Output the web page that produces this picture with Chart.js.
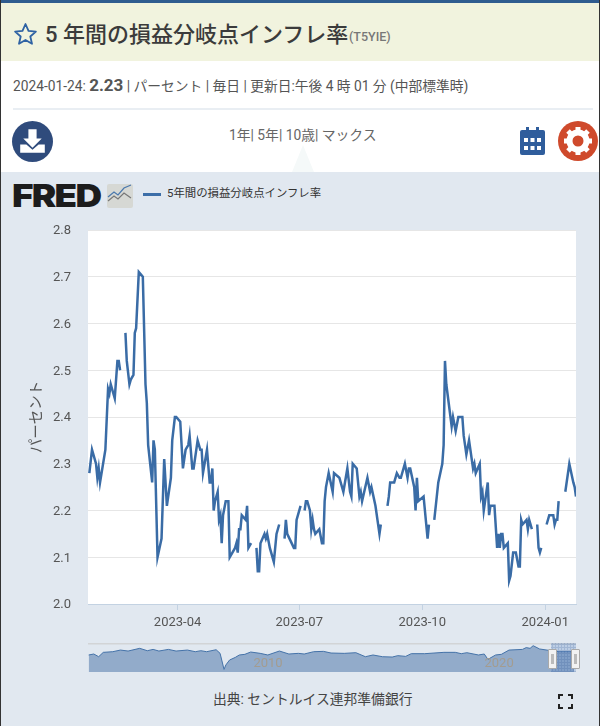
<!DOCTYPE html>
<html lang="ja"><head><meta charset="utf-8">
<script src="https://cdn.jsdelivr.net/npm/chart.js@4"></script>
<style>
html,body{margin:0;padding:0;background:#fff}
body{width:600px;height:726px;position:relative;overflow:hidden;font-family:Roboto,"Noto Sans CJK JP",sans-serif;color:#444}
.a{position:absolute;white-space:nowrap}
</style></head><body>
<div class="a" style="left:0;top:0;width:600px;height:3px;background:#2f5c8f"></div>
<div class="a" style="left:0;top:3px;width:600px;height:58px;background:#f1f3de"></div>
<svg class="a" style="left:13px;top:22px" width="25" height="24" viewBox="0 0 24 24"><path d="M12 2l3 6.9 7.4.7-5.6 4.9 1.7 7.3L12 17.9 5.500 21.800l1.700-7.300L1.600 9.600 9 8.900z" fill="none" stroke="#2f62a3" stroke-width="1.800" stroke-linejoin="round"/></svg>
<div class="a" style="left:45px;top:20px;font-size:22px;line-height:30px;font-weight:500;color:#3b3b3b">5 年間の損益分岐点インフレ率</div>
<div class="a" style="left:349px;top:29px;font-size:12.500px;line-height:16px;font-weight:500;color:#777">(T5YIE)</div>
<div class="a" style="left:13px;top:73px;font-size:13.750px;line-height:24px;color:#555">2024-01-24: <b style="font-size:17px;color:#555">2.23</b> | パーセント | 毎日 | 更新日:午後 4 時 01 分 (中部標準時)</div>
<div class="a" style="left:13px;top:108px;width:580px;height:2px;background:#e9eef3"></div>
<svg class="a" style="left:12px;top:121px" width="41" height="41" viewBox="0 0 40 40"><circle cx="20" cy="20" r="20" fill="#2f4b7c"/><path d="M16 8h8v9h5l-9 9-9-9h5z" fill="#fff"/><path d="M8 23h6l6 5 6-5h6v8H8z" fill="#fff"/></svg>
<div class="a" style="left:229px;top:124px;font-size:13.800px;line-height:22px;color:#666">1年| 5年| 10歳| マックス</div>
<svg class="a" style="left:292px;top:145px" width="22" height="27" viewBox="0 0 22 27"><path d="M11 0L22 27H0z" fill="#f5f9f9"/></svg>
<svg class="a" style="left:520px;top:127px" width="25" height="28" viewBox="0 0 25 28"><path d="M6 0h3v4H6zM16 0h3v4h-3z" fill="#2f5d9c"/><rect y="3" width="25" height="25" rx="2" fill="#2f5d9c"/><g fill="#fff"><rect x="4" y="11" width="4" height="4"/><rect x="10.500" y="11" width="4" height="4"/><rect x="17" y="11" width="4" height="4"/><rect x="4" y="19" width="4" height="4"/><rect x="10.500" y="19" width="4" height="4"/><rect x="17" y="19" width="4" height="4"/></g></svg>
<svg class="a" style="left:558px;top:121px" width="40" height="40" viewBox="0 0 40 40"><circle cx="20" cy="20" r="20" fill="#cf4a2c"/><circle cx="20" cy="20" r="8.500" fill="none" stroke="#fff" stroke-width="6"/><g stroke="#fff" stroke-width="5"><path d="M20 6v6M20 28v6M6 20h6M28 20h6M10 10l4 4M26 26l4 4M30 10l-4 4M14 26l-4 4"/></g><circle cx="20" cy="20" r="5" fill="#cf4a2c"/></svg>
<div class="a" style="left:0;top:172px;width:600px;height:554px;background:#e1e8f0"></div>
<div class="a" style="left:12px;top:179px;font-size:32px;line-height:34px;font-weight:900;font-family:Inter,'Liberation Sans',sans-serif;color:#1c1c1c;letter-spacing:-1.500px;transform-origin:0 0;transform:scaleX(1.15)">FRED</div>
<svg class="a" style="left:107px;top:184px" width="26" height="24" viewBox="0 0 26 24"><rect width="26" height="24" rx="2" fill="#d6d8d4"/><path d="M1 17l6-5 4 3 6-6 7 5" fill="none" stroke="#777" stroke-width="1.200"/><path d="M1 13l6-5 4 3 6-7 7-3" fill="none" stroke="#4a78ad" stroke-width="1.200"/></svg>
<div class="a" style="left:143px;top:193px;width:18px;height:3px;background:#3c6ea8"></div>
<div class="a" style="left:167px;top:185px;font-size:11.400px;line-height:17px;font-weight:400;color:#333">5年間の損益分岐点インフレ率</div>
<canvas id="main" class="a" width="600" height="460" style="left:0;top:172px;width:600px;height:460px"></canvas>
<canvas id="nav" class="a" width="488" height="29" style="left:88px;top:643px;width:488px;height:29px"></canvas>
<div class="a" style="left:551px;top:643px;width:25px;height:29px;background-color:rgba(80,125,190,.25);background-image:radial-gradient(rgba(40,80,140,.18) 1px,transparent 1.200px);background-size:3px 3px"></div>
<div class="a" style="left:548px;top:649px;width:7px;height:18px;background:#f2f2f2;border:1px solid #a9a9a9;border-radius:1px"><div style="margin:4px 2px;height:10px;width:3px;background:#bbb"></div></div>
<div class="a" style="left:571px;top:649px;width:7px;height:18px;background:#f2f2f2;border:1px solid #a9a9a9;border-radius:1px"><div style="margin:4px 2px;height:10px;width:3px;background:#bbb"></div></div>
<div class="a" style="left:213px;top:688px;font-size:13.800px;line-height:22px;color:#444">出典: セントルイス連邦準備銀行</div>
<svg class="a" style="left:558px;top:694px" width="15" height="15" viewBox="0 0 15 15"><path d="M1 5V1h4M10 1h4v4M14 10v4h-4M5 14H1v-4" fill="none" stroke="#222" stroke-width="2"/></svg>
<div class="a" style="left:0;top:0;width:1px;height:726px;background:#333"></div>
<div class="a" style="left:599px;top:0;width:1px;height:726px;background:#333"></div>
<script>
// Days since 2023-01-24 and readings (percent); null marks a market holiday gap.
const days = [1,3,6,7,8,9,13,15,16,17,20,22,23,24,27,28,29,31,32,34,35,36,38,41,43,44,45,48,49,50,52,55,57,59,62,63,65,66,69,71,73,75,76,78,79,82,84,85,86,89,91,92,93,94,95,97,98,99,100,101,103,105,106,108,110,111,112,113,114,115,118,119,120,122,125,126,127,128,129,132,133,134,136,139,141,143,146,147,148,149,154,155,156,159,161,162,163,164,166,167,168,169,170,173,175,176,177,178,180,183,184,188,191,194,196,197,198,201,203,204,205,209,211,212,215,218,219,223,224,225,226,229,231,233,234,237,239,240,241,244,245,246,247,251,254,255,258,259,262,265,266,267,268,272,273,275,277,280,281,283,285,288,289,290,293,294,295,296,299,300,301,304,306,307,308,309,310,311,314,315,316,318,320,322,323,324,325,328,329,330,332,334,336,337,338,339,342,343,345,348,349,350,351,352,356,357,360,363,364,365];
const rates = [2.28,2.33,2.30,2.27,2.29,2.26,2.33,2.46,2.45,2.47,2.44,2.52,2.52,2.50,null,2.58,2.52,2.47,2.48,2.49,2.58,2.59,2.71,2.70,2.47,2.43,2.34,2.26,2.35,2.33,2.10,2.14,2.31,2.21,2.27,2.35,2.40,2.40,2.39,2.29,2.33,2.34,2.36,2.29,2.29,2.35,2.33,2.33,2.28,2.33,2.26,2.26,2.29,2.20,2.22,2.24,2.18,2.19,2.13,2.19,2.22,2.22,2.10,2.11,2.12,2.13,2.11,2.16,2.16,2.19,2.18,2.21,2.12,2.13,null,2.12,2.07,2.07,2.13,2.15,2.14,2.15,2.12,2.09,2.15,2.17,null,2.14,2.18,2.15,2.12,2.12,2.18,2.21,null,2.20,2.22,2.22,2.20,2.16,2.18,2.16,2.15,2.16,2.13,2.13,2.22,2.25,2.28,2.24,2.28,2.27,2.24,2.29,2.24,2.23,2.30,2.29,2.23,2.24,2.22,2.27,2.24,2.25,2.21,2.15,2.17,null,2.21,2.23,2.26,2.26,2.28,2.27,2.27,2.30,2.27,2.29,2.29,2.25,2.20,2.27,2.22,2.23,2.14,2.17,null,2.18,2.26,2.30,2.34,2.52,2.47,2.38,2.40,2.37,2.40,2.40,2.36,2.32,2.35,2.29,2.30,2.28,2.30,2.23,2.24,2.20,2.26,2.19,2.21,2.21,2.12,2.15,2.12,2.15,2.15,2.12,2.13,2.05,2.06,2.11,2.11,2.08,2.08,2.18,2.17,2.18,2.16,2.18,2.16,null,2.17,2.12,2.11,2.12,null,2.17,2.19,2.19,2.17,2.18,2.18,2.22,null,2.24,2.30,2.26,2.25,2.23];
const tickDays = [67,158,250,342];
const tickLabels = ["2023-04","2023-07","2023-10","2024-01"];
const yTicks = [2.0,2.1,2.2,2.3,2.4,2.5,2.6,2.7,2.8];
const navYears = [2003.03,2003.25,2003.46,2003.66,2004.07,2004.40,2004.73,2005.23,2005.56,2005.81,2006.06,2006.47,2006.80,2007.29,2007.63,2007.87,2008.12,2008.53,2008.70,2008.87,2008.95,2009.11,2009.36,2009.53,2009.77,2010.02,2010.43,2010.76,2011.26,2011.67,2012.08,2012.33,2012.74,2013.16,2013.49,2014.06,2014.56,2014.97,2015.30,2015.71,2016.13,2016.37,2016.71,2016.95,2017.53,2018.36,2018.85,2019.11,2019.35,2019.85,2020.10,2020.26,2020.59,2020.84,2021.17,2021.75,2021.91,2022.08,2022.21,2022.49,2022.99,2023.32,2023.98];
const navValues = [2.18,2.33,1.92,2.58,2.68,2.93,2.78,3.19,2.83,3.03,2.78,3.03,2.78,2.93,2.68,2.83,2.68,2.98,2.43,0.0,0.67,1.42,1.82,2.18,2.28,2.63,2.43,2.18,2.78,2.33,2.43,2.33,2.68,2.73,2.48,2.43,2.53,1.92,2.18,1.92,1.87,2.08,1.97,2.38,2.38,2.58,2.58,2.38,2.53,2.18,2.33,1.52,2.18,2.28,2.93,3.03,3.30,3.19,3.59,3.09,2.83,2.68,2.68];
const navTickYears = [2010.77,2020.74];
const navTickLabels = ["2010","2020"];

const FONT = 'Roboto,"Noto Sans CJK JP",sans-serif';
const LINE = '#3a6ca6';
const plotBg = {id:'plotBg',beforeDraw(c){const a=c.chartArea,x=c.ctx;x.save();x.fillStyle='#fff';x.fillRect(a.left,a.top,a.right-a.left,a.bottom-a.top);x.restore();}};

new Chart(document.getElementById('main'),{
  type:'line',
  data:{datasets:[{data:days.map((d,i)=>({x:d,y:rates[i]})),borderColor:LINE,borderWidth:2.500,pointRadius:0,tension:0,spanGaps:false,fill:false}]},
  plugins:[plotBg],
  options:{
    responsive:false,animation:false,devicePixelRatio:1,
    layout:{padding:{left:25,right:24,top:58,bottom:0}},
    plugins:{legend:{display:false},tooltip:{enabled:false}},
    scales:{
      x:{type:'linear',min:0,max:365,
        afterFit(s){s.height=28;},
        afterBuildTicks(s){s.ticks=tickDays.map(v=>({value:v}));},
        grid:{drawOnChartArea:false,tickLength:6,tickColor:'#c3d2e2'},
        border:{color:'#c3d2e2'},
        ticks:{autoSkip:false,maxRotation:0,padding:5,color:'#555',font:{family:FONT,size:13},callback:v=>tickLabels[tickDays.indexOf(v)]}},
      y:{min:2,max:2.8,
        afterFit(s){s.width=63;},
        afterBuildTicks(s){s.ticks=yTicks.map(v=>({value:v}));},
        grid:{color:'#e6e6e6',drawTicks:false},
        border:{display:false},
        title:{display:true,text:'パーセント',color:'#555',font:{family:FONT,size:14.500}},
        ticks:{padding:17,labelOffset:1,color:'#555',font:{family:FONT,size:13},callback:v=>v.toFixed(1)}}
    }
  }
});

const navDecor = {id:'navDecor',afterDraw(c){
  const x=c.ctx,s=c.scales.x;
  x.save();
  x.fillStyle='#d2d4d6';x.fillRect(0,0,c.width,1.500);
  x.fillStyle='#a39c90';x.font='13px '+FONT;x.textAlign='center';x.textBaseline='middle';
  navTickYears.forEach((v,i)=>x.fillText(navTickLabels[i],s.getPixelForValue(v),20.500));
  x.restore();
}};
new Chart(document.getElementById('nav'),{
  type:'line',
  data:{datasets:[{data:navYears.map((d,i)=>({x:d,y:navValues[i]})),borderColor:'#4472a8',borderWidth:1,pointRadius:0,tension:0,fill:'start',backgroundColor:'#92abca'}]},
  plugins:[navDecor],
  options:{
    responsive:false,animation:false,devicePixelRatio:1,
    layout:{padding:0},
    plugins:{legend:{display:false},tooltip:{enabled:false}},
    scales:{
      x:{type:'linear',display:false,min:2003,max:2024.06},
      y:{display:false,min:-0.4,max:4}
    }
  }
});
</script>
</body></html>
